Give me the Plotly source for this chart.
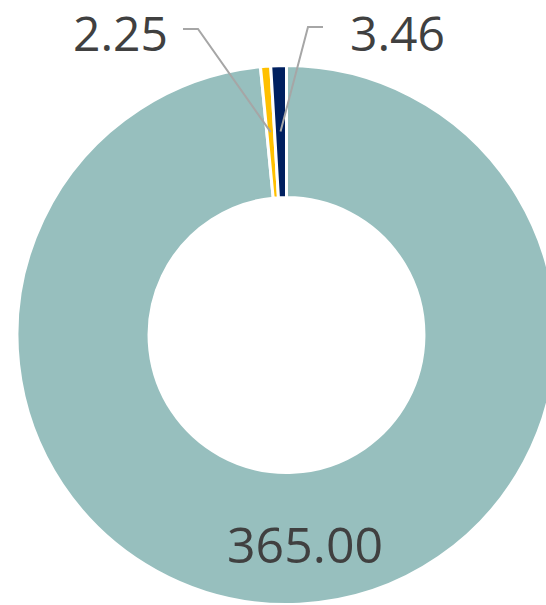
import math
import plotly.graph_objects as go

# ---- data ----
categories = ["Series A", "Series B", "Series C"]
values = [365.00, 2.25, 3.46]
value_labels = ["365.00", "2.25", "3.46"]
colors = ["#97BFBE", "#FFC000", "#002060"]

# ---- layout constants (pixels) ----
W, H = 560, 605
CX, CY = 286.5, 335.0
R = 269.5
HOLE = 0.51
FONT = "Open Sans"
TXT_COLOR = "#404040"
FS = 50
FS_TOP = 48

def paper(x, y):
    return x / W, 1 - y / H

dom_x = [(CX - R) / W, (CX + R) / W]
dom_y = [1 - (CY + R) / H, 1 - (CY - R) / H]

fig = go.Figure(go.Pie(
    labels=categories,
    values=values,
    textinfo="none",
    hole=HOLE,
    sort=False,
    direction="clockwise",
    rotation=0,
    marker=dict(colors=colors, line=dict(color="white", width=3)),
    domain=dict(x=dom_x, y=dom_y),
    showlegend=False,
    hoverinfo="label+value",
))

# slice mid-angles from data
total = sum(values)
cum = 0.0
mids = []
for v in values:
    mids.append((cum + v / 2) / total * 2 * math.pi)
    cum += v
r_anchor = R * (1 + HOLE) / 2

shapes = []
annotations = []

# inside label for the large slice (at its mid-angle, nudged like the original)
ax0 = CX + (r_anchor + 6) * math.sin(mids[0]) + 8
ay0 = CY - (r_anchor + 6) * math.cos(mids[0])
x0p, y0p = paper(ax0, ay0)
annotations.append(dict(x=x0p, y=y0p, xref="paper", yref="paper",
                        text=value_labels[0], showarrow=False,
                        xanchor="center", yanchor="middle", height=50,
                        font=dict(family=FONT, size=FS, color=TXT_COLOR)))

# leader lines & outside labels for small slices
label_style = {
    1: dict(elbow=(198, 29), end=(183, 29), text=(170, 32), anchor="right"),
    2: dict(elbow=(308, 27), end=(323, 27), text=(348, 32), anchor="left"),
}
for i, st in label_style.items():
    ax = CX + r_anchor * math.sin(mids[i])
    ay = CY - r_anchor * math.cos(mids[i])
    pts = [paper(ax, ay), paper(*st["elbow"]), paper(*st["end"])]
    path = "M {},{} L {},{} L {},{}".format(*[c for p in pts for c in p])
    shapes.append(dict(type="path", path=path, xref="paper", yref="paper",
                       line=dict(color="#A6A6A6", width=2)))
    tx, ty = paper(*st["text"])
    annotations.append(dict(x=tx, y=ty, xref="paper", yref="paper",
                            text=value_labels[i], showarrow=False,
                            xanchor=st["anchor"], yanchor="middle", height=44,
                            font=dict(family=FONT, size=FS_TOP, color=TXT_COLOR)))

fig.update_layout(
    width=W, height=H,
    margin=dict(l=0, r=0, t=0, b=0),
    paper_bgcolor="white", plot_bgcolor="white",
    shapes=shapes, annotations=annotations,
)

fig.write_html(
    "out.html",
    config={"displayModeBar": False},
    post_script="document.documentElement.style.overflow='hidden';"
                "document.body.style.overflow='hidden';"
                "document.body.style.margin='0';",
)
